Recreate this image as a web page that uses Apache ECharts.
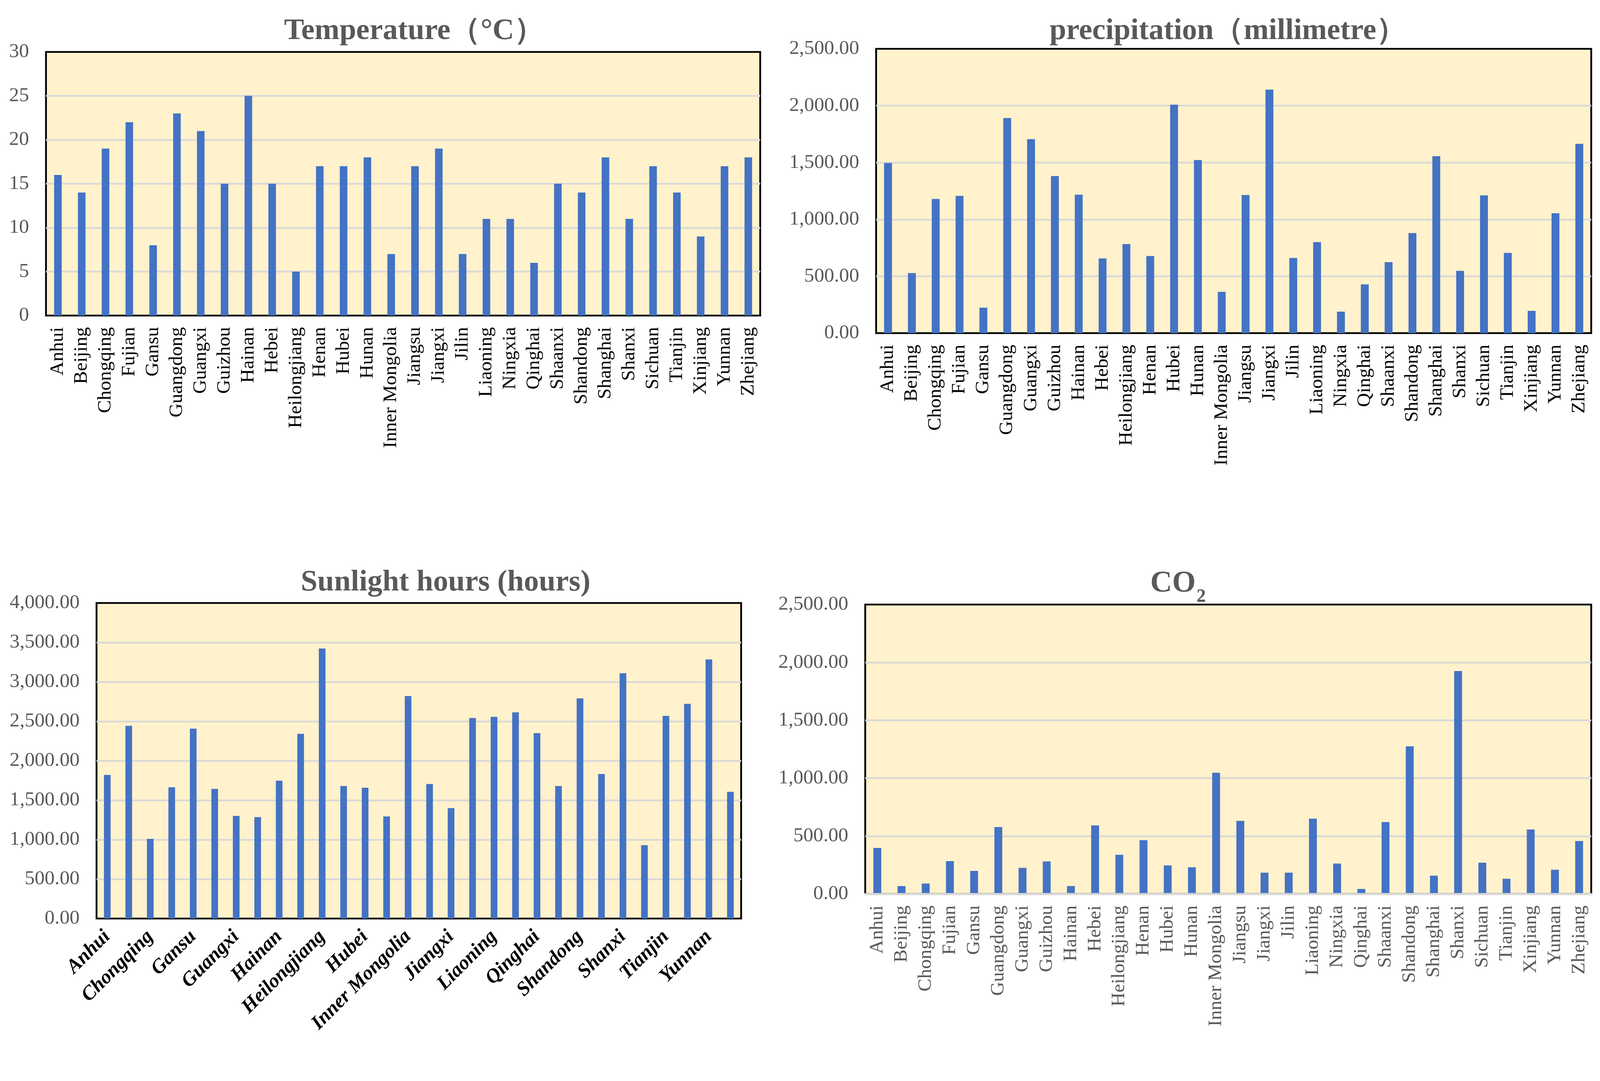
<!DOCTYPE html>
<html><head><meta charset="utf-8">
<script src="https://cdn.jsdelivr.net/npm/echarts@6/dist/echarts.min.js"></script>
<style>html,body{margin:0;padding:0;background:#fff;overflow:hidden}#c{width:100vw;height:100vh}</style>
</head><body><div id="c"></div>
<script>
const provinces = ['Anhui','Beijing','Chongqing','Fujian','Gansu','Guangdong','Guangxi','Guizhou','Hainan','Hebei','Heilongjiang','Henan','Hubei','Hunan','Inner Mongolia','Jiangsu','Jiangxi','Jilin','Liaoning','Ningxia','Qinghai','Shaanxi','Shandong','Shanghai','Shanxi','Sichuan','Tianjin','Xinjiang','Yunnan','Zhejiang'];
const temperature = [16,14,19,22,8,23,21,15,25,15,5,17,17,18,7,17,19,7,11,11,6,15,14,18,11,17,14,9,17,18];
const precipitation = [1496,528,1180,1207,224,1891,1706,1381,1217,657,783,678,2009,1522,363,1215,2141,661,800,189,428,624,880,1556,548,1211,706,196,1054,1665];
const sunlight = [1820,2443,1010,1664,2407,1643,1301,1286,1748,2341,3423,1679,1658,1295,2821,1706,1400,2542,2557,2614,2350,1679,2791,1832,3109,929,2569,2722,3285,1607];
const co2 = [397,68,90,283,199,578,225,281,68,592,338,465,246,230,1047,631,184,184,650,262,43,621,1275,158,1926,270,131,557,209,457];

const titleTemp = 'Temperature（°C）';
const titlePrec = 'precipitation（millimetre）';
const titleSun = 'Sunlight hours (hours)';
const titleCO = 'CO';
const titleCOsub = '2';

const W = window.innerWidth, H = window.innerHeight;
const sx = W / 5287, sy = H / 2768, s = Math.min(sx, sy);
const X = v => v * sx, Y = v => v * sy, F = v => v * s;
// top of a title box so that its text baseline lands at reference baseline b
const TT = (b, size) => Y(b) - 5 - 0.8375 * F(size);

const FONT = 'Liberation Serif';
const GREY = '#595959';
const fmt2 = v => Number(v).toLocaleString('en-US', {minimumFractionDigits: 2, maximumFractionDigits: 2});

const gridsRef = [
  {left: 152, top: 133, width: 2360, height: 675},
  {left: 2895, top: 125, width: 2363, height: 728},
  {left: 319, top: 1544, width: 2130, height: 808},
  {left: 2859, top: 1548, width: 2399, height: 741}
];
const grids = gridsRef.map(g => ({left: X(g.left), top: Y(g.top), width: X(g.width), height: Y(g.height)}));
const yMax = [30, 2500, 4000, 2500];
const yInt = [5, 500, 500, 500];
const series = [temperature, precipitation, sunlight, co2];
const barW = [25, 26, 22, 26];

const tStyle = size => ({fontFamily: FONT, fontWeight: 'bold', fontSize: F(size), color: GREY});
const coLeft = X(3801);
const coWidth = 1.5 * F(100);
const option = {
  animation: false,
  backgroundColor: '#ffffff',
  title: [
    {text: titleTemp, left: X(1362), top: TT(106, 99), textAlign: 'center', textStyle: tStyle(99)},
    {text: titlePrec, left: X(4051), top: TT(106, 99), textAlign: 'center', textStyle: tStyle(99)},
    {text: titleSun, left: X(1466), top: TT(1518, 99), textAlign: 'center', textStyle: tStyle(99)},
    {text: titleCO, left: coLeft - 5, top: TT(1521, 100), textStyle: tStyle(100)},
    {text: titleCOsub, left: coLeft + coWidth - 3, top: TT(1545, 62), textStyle: tStyle(62)}
  ],
  grid: grids.map(g => Object.assign({show: true, backgroundColor: '#FFF2CC', borderColor: '#000', borderWidth: F(6), containLabel: false}, g)),
  xAxis: grids.map((g, i) => ({
    type: 'category', gridIndex: i, data: provinces,
    z: i === 3 ? 10 : 0,
    axisLine: {show: i === 3, lineStyle: {color: '#D9D9D9', width: F(7)}},
    axisTick: {show: false},
    axisLabel: i === 2 ? {
      interval: 1, rotate: 45, margin: F(50), fontFamily: FONT, fontSize: F(66), fontWeight: 'bold', fontStyle: 'italic', color: '#000'
    } : {
      interval: 0, rotate: 90, margin: F(38), fontFamily: FONT, fontSize: F(64), color: i === 3 ? GREY : '#000'
    }
  })),
  yAxis: grids.map((g, i) => ({
    type: 'value', gridIndex: i, min: 0, max: yMax[i], interval: yInt[i],
    axisLine: {show: false}, axisTick: {show: false},
    splitLine: {show: true, showMinLine: false, showMaxLine: false, lineStyle: {color: '#D9D9D9', width: F(6)}},
    axisLabel: {margin: F(56), fontFamily: FONT, fontSize: F(66), color: GREY, formatter: i === 0 ? (v => String(v)) : fmt2}
  })),
  series: series.map((d, i) => ({
    type: 'bar', xAxisIndex: i, yAxisIndex: i, data: d, barWidth: F(barW[i]),
    itemStyle: {color: '#4472C4'}
  }))
};
const chart = echarts.init(document.getElementById('c'), null, {renderer: 'canvas'});
chart.setOption(option);
window.addEventListener('resize', () => chart.resize());
</script></body></html>
